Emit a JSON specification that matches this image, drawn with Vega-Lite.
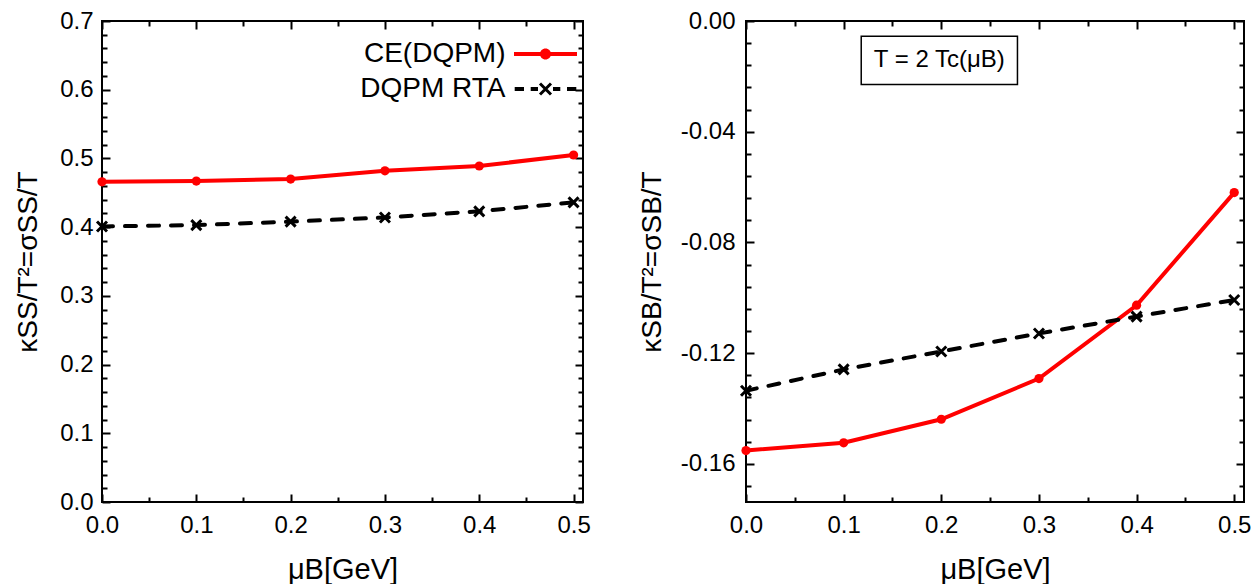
{
  "$schema": "https://vega.github.io/schema/vega-lite/v6.json",
  "background": "white",
  "padding": {"left": 13, "top": 8, "right": 0, "bottom": 0},
  "spacing": 45,
  "config": {
    "view": {"stroke": "black", "strokeWidth": 2},
    "font": "Liberation Sans",
    "locale": {"number": {"decimal": ".", "thousands": ",", "grouping": [3], "currency": ["$", ""], "minus": "-"}},
    "axis": {
      "labelFont": "Liberation Sans", "titleFont": "Liberation Sans",
      "labelColor": "black", "titleColor": "black", "tickColor": "black",
      "grid": false, "domain": false, "labelFontSize": 24, "titleFontSize": 29,
      "titleFontWeight": "normal", "tickWidth": 2, "labelFlush": false, "labelOverlap": false
    },
    "legend": {"labelFont": "Liberation Sans", "labelColor": "black"}
  },
  "hconcat": [
    {
      "width": 481, "height": 481,
      "data": {"values": [
        {"mu": 0.0, "series": "CE(DQPM)", "value": 0.466},
        {"mu": 0.1, "series": "CE(DQPM)", "value": 0.467},
        {"mu": 0.2, "series": "CE(DQPM)", "value": 0.470},
        {"mu": 0.3, "series": "CE(DQPM)", "value": 0.482},
        {"mu": 0.4, "series": "CE(DQPM)", "value": 0.489},
        {"mu": 0.5, "series": "CE(DQPM)", "value": 0.505},
        {"mu": 0.0, "series": "DQPM RTA", "value": 0.401},
        {"mu": 0.1, "series": "DQPM RTA", "value": 0.403},
        {"mu": 0.2, "series": "DQPM RTA", "value": 0.408},
        {"mu": 0.3, "series": "DQPM RTA", "value": 0.414},
        {"mu": 0.4, "series": "DQPM RTA", "value": 0.423},
        {"mu": 0.5, "series": "DQPM RTA", "value": 0.436}
      ]},
      "layer": [
        {
          "transform": [{"filter": "datum.series === 'CE(DQPM)'"}],
          "mark": {"type": "line", "strokeWidth": 4},
          "encoding": {
            "x": {"field": "mu", "type": "quantitative",
              "scale": {"domain": [0, 0.51], "nice": false, "zero": false},
              "axis": {"orient": "bottom", "values": [0, 0.1, 0.2, 0.3, 0.4, 0.5], "format": ".1f", "tickSize": -8, "labelFontSize": 24, "labelPadding": 19, "title": "μB[GeV]", "titleFontSize": 29, "titlePadding": 18}},
            "y": {"field": "value", "type": "quantitative",
              "scale": {"domain": [0, 0.7], "nice": false, "zero": false},
              "axis": {"orient": "left", "values": [0, 0.1, 0.2, 0.3, 0.4, 0.5, 0.6, 0.7], "format": ".1f", "tickSize": -8, "labelFontSize": 24, "labelPadding": 17, "title": "κSS/T²=σSS/T", "titleFontSize": 28, "titlePadding": 17}},
            "color": {"field": "series", "type": "nominal",
              "scale": {"domain": ["CE(DQPM)", "DQPM RTA"], "range": ["#ff0000", "#000000"]},
              "legend": {
                "orient": "none", "legendX": 429.5, "legendY": 19, "padding": 0,
                "title": null, "labelFontSize": 28, "symbolSize": 400,
                "labelAlign": "right", "labelOffset": -54, "rowPadding": 7,
                "encode": {"symbols": {"update": {
                  "shape": [
                    {"test": "datum.value === 'CE(DQPM)'", "value": "M-3.15,-0.2H3.15V0.2H-3.15Z M0.55,0A0.55,0.55,0,1,1,-0.55,0A0.55,0.55,0,1,1,0.55,0Z"},
                    {"value": "M-3.08,-0.2H-2.15V0.2H-3.08Z M-1.48,-0.2H-0.75V0.2H-1.48Z M0.75,-0.2H1.48V0.2H0.75Z M2.15,-0.2H3.08V0.2H2.15Z M-0.656,-0.444L-0.444,-0.656L0.656,0.444L0.444,0.656Z M0.444,-0.656L0.656,-0.444L-0.444,0.656L-0.656,0.444Z"}
                  ],
                  "fill": [{"test": "datum.value === 'CE(DQPM)'", "value": "#ff0000"}, {"value": "#000000"}],
                  "stroke": {"value": "transparent"},
                  "strokeWidth": {"value": 0},
                  "opacity": {"value": 1}
                }}}
              }}
          }
        },
        {
          "transform": [{"filter": "datum.series === 'CE(DQPM)'"}],
          "mark": {"type": "point", "filled": true, "shape": "circle", "size": 85, "opacity": 1},
          "encoding": {
            "x": {"field": "mu", "type": "quantitative",
              "axis": {"orient": "bottom", "values": [0.05, 0.15, 0.25, 0.35, 0.45], "labels": false, "tickSize": -5, "title": null}},
            "y": {"field": "value", "type": "quantitative",
              "axis": {"orient": "left", "values": [0.02, 0.04, 0.06, 0.08, 0.12, 0.14, 0.16, 0.18, 0.22, 0.24, 0.26, 0.28, 0.32, 0.34, 0.36, 0.38, 0.42, 0.44, 0.46, 0.48, 0.52, 0.54, 0.56, 0.58, 0.62, 0.64, 0.66, 0.68], "labels": false, "tickSize": -5, "title": null}},
            "color": {"field": "series", "type": "nominal"}
          }
        },
        {
          "transform": [{"filter": "datum.series === 'DQPM RTA'"}],
          "mark": {"type": "line", "strokeWidth": 4, "strokeDash": [11, 12], "strokeCap": "round"},
          "encoding": {
            "x": {"field": "mu", "type": "quantitative",
              "axis": {"orient": "top", "values": [0, 0.1, 0.2, 0.3, 0.4, 0.5], "labels": false, "tickSize": -8, "title": null}},
            "y": {"field": "value", "type": "quantitative",
              "axis": {"orient": "right", "values": [0, 0.1, 0.2, 0.3, 0.4, 0.5, 0.6, 0.7], "labels": false, "tickSize": -8, "title": null}},
            "color": {"field": "series", "type": "nominal"}
          }
        },
        {
          "transform": [{"filter": "datum.series === 'DQPM RTA'"}],
          "mark": {"type": "point", "filled": false, "shape": "M-1,-1L1,1M-1,1L1,-1", "size": 100, "strokeWidth": 3, "opacity": 1},
          "encoding": {
            "x": {"field": "mu", "type": "quantitative",
              "axis": {"orient": "top", "values": [0.05, 0.15, 0.25, 0.35, 0.45], "labels": false, "tickSize": -5, "title": null}},
            "y": {"field": "value", "type": "quantitative",
              "axis": {"orient": "right", "values": [0.02, 0.04, 0.06, 0.08, 0.12, 0.14, 0.16, 0.18, 0.22, 0.24, 0.26, 0.28, 0.32, 0.34, 0.36, 0.38, 0.42, 0.44, 0.46, 0.48, 0.52, 0.54, 0.56, 0.58, 0.62, 0.64, 0.66, 0.68], "labels": false, "tickSize": -5, "title": null}},
            "color": {"field": "series", "type": "nominal"}
          }
        }
      ],
      "resolve": {"axis": {"x": "independent", "y": "independent"}}
    },
    {
      "width": 498, "height": 481,
      "data": {"values": [
        {"mu": 0.0, "series": "CE(DQPM)", "value": -0.1552},
        {"mu": 0.1, "series": "CE(DQPM)", "value": -0.1524},
        {"mu": 0.2, "series": "CE(DQPM)", "value": -0.1439},
        {"mu": 0.3, "series": "CE(DQPM)", "value": -0.1292},
        {"mu": 0.4, "series": "CE(DQPM)", "value": -0.1027},
        {"mu": 0.5, "series": "CE(DQPM)", "value": -0.0620},
        {"mu": 0.0, "series": "DQPM RTA", "value": -0.1336},
        {"mu": 0.1, "series": "DQPM RTA", "value": -0.1259},
        {"mu": 0.2, "series": "DQPM RTA", "value": -0.1194},
        {"mu": 0.3, "series": "DQPM RTA", "value": -0.1129},
        {"mu": 0.4, "series": "DQPM RTA", "value": -0.1068},
        {"mu": 0.5, "series": "DQPM RTA", "value": -0.1008}
      ]},
      "layer": [
        {
          "transform": [{"filter": "datum.series === 'CE(DQPM)'"}],
          "mark": {"type": "line", "strokeWidth": 4, "color": "#ff0000"},
          "encoding": {
            "x": {"field": "mu", "type": "quantitative",
              "scale": {"domain": [0, 0.51], "nice": false, "zero": false},
              "axis": {"orient": "bottom", "values": [0, 0.1, 0.2, 0.3, 0.4, 0.5], "format": ".1f", "tickSize": -8, "labelFontSize": 24, "labelPadding": 19, "title": "μB[GeV]", "titleFontSize": 29, "titlePadding": 18}},
            "y": {"field": "value", "type": "quantitative",
              "scale": {"domain": [-0.1738, 0], "nice": false, "zero": false},
              "axis": {"orient": "left", "values": [-0.16, -0.12, -0.08, -0.04, 0], "format": ".2f", "tickSize": -8, "labelFontSize": 24, "labelPadding": 19, "title": "κSB/T²=σSB/T", "titleFontSize": 28, "titlePadding": 14}}
          }
        },
        {
          "transform": [{"filter": "datum.series === 'CE(DQPM)'"}],
          "mark": {"type": "point", "filled": true, "shape": "circle", "size": 85, "color": "#ff0000", "opacity": 1},
          "encoding": {
            "x": {"field": "mu", "type": "quantitative",
              "axis": {"orient": "bottom", "values": [0.05, 0.15, 0.25, 0.35, 0.45], "labels": false, "tickSize": -5, "title": null}},
            "y": {"field": "value", "type": "quantitative",
              "axis": {"orient": "left", "values": [-0.168, -0.152, -0.144, -0.136, -0.128, -0.112, -0.104, -0.096, -0.088, -0.072, -0.064, -0.056, -0.048, -0.032, -0.024, -0.016, -0.008], "labels": false, "tickSize": -5, "title": null}}
          }
        },
        {
          "transform": [{"filter": "datum.series === 'DQPM RTA'"}],
          "mark": {"type": "line", "strokeWidth": 4, "strokeDash": [11, 12], "strokeCap": "round", "color": "#000000"},
          "encoding": {
            "x": {"field": "mu", "type": "quantitative",
              "axis": {"orient": "top", "values": [0, 0.1, 0.2, 0.3, 0.4, 0.5], "labels": false, "tickSize": -8, "title": null}},
            "y": {"field": "value", "type": "quantitative",
              "axis": {"orient": "right", "values": [-0.16, -0.12, -0.08, -0.04, 0], "labels": false, "tickSize": -8, "title": null}}
          }
        },
        {
          "transform": [{"filter": "datum.series === 'DQPM RTA'"}],
          "mark": {"type": "point", "filled": false, "shape": "M-1,-1L1,1M-1,1L1,-1", "size": 100, "strokeWidth": 3, "color": "#000000", "opacity": 1},
          "encoding": {
            "x": {"field": "mu", "type": "quantitative",
              "axis": {"orient": "top", "values": [0.05, 0.15, 0.25, 0.35, 0.45], "labels": false, "tickSize": -5, "title": null}},
            "y": {"field": "value", "type": "quantitative",
              "axis": {"orient": "right", "values": [-0.168, -0.152, -0.144, -0.136, -0.128, -0.112, -0.104, -0.096, -0.088, -0.072, -0.064, -0.056, -0.048, -0.032, -0.024, -0.016, -0.008], "labels": false, "tickSize": -5, "title": null}}
          }
        },
        {
          "data": {"values": [{"label": "T = 2 Tc(μB)"}]},
          "mark": {"type": "rect", "fill": "white", "stroke": "black", "strokeWidth": 1.5},
          "encoding": {
            "x": {"datum": 0.118, "type": "quantitative", "axis": null},
            "x2": {"datum": 0.278},
            "y": {"datum": -0.0055, "type": "quantitative", "axis": null},
            "y2": {"datum": -0.0229}
          }
        },
        {
          "data": {"values": [{"label": "T = 2 Tc(μB)"}]},
          "mark": {"type": "text", "font": "Liberation Sans", "fontSize": 24, "fontWeight": "normal", "fill": "black", "align": "center", "baseline": "middle"},
          "encoding": {
            "text": {"field": "label", "type": "nominal"},
            "x": {"datum": 0.198, "type": "quantitative", "axis": null},
            "y": {"datum": -0.0142, "type": "quantitative", "axis": null}
          }
        }
      ],
      "resolve": {"axis": {"x": "independent", "y": "independent"}}
    }
  ]
}
